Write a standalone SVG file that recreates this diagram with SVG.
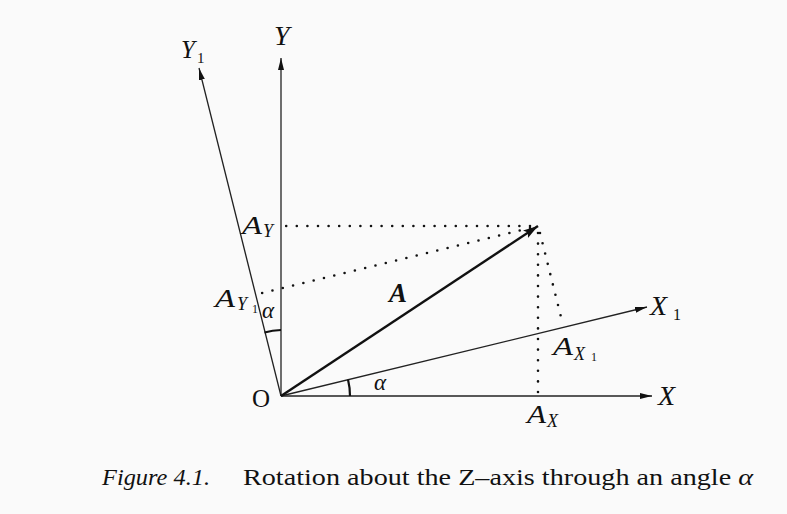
<svg xmlns="http://www.w3.org/2000/svg" width="787" height="514" viewBox="0 0 787 514">
<defs>
<marker id="arr" markerUnits="userSpaceOnUse" markerWidth="14" markerHeight="10" refX="12" refY="4" orient="auto">
<path d="M0,1 L12,4 L0,7 Z" fill="#111"/>
</marker>
<marker id="arrB" markerUnits="userSpaceOnUse" markerWidth="18" markerHeight="12" refX="15" refY="5" orient="auto">
<path d="M0,0.5 L15,5 L0,9.5 L3,5 Z" fill="#111"/>
</marker>
<style>
.ax{stroke:#222;stroke-width:1.3;fill:none}
.vec{stroke:#111;stroke-width:2.4;fill:none}
.dot{stroke:#111;stroke-width:2.6;stroke-linecap:round;stroke-dasharray:0 10.6;fill:none}
.arc{stroke:#111;stroke-width:2.2;fill:none}
.m{font-family:"Liberation Serif","DejaVu Serif",serif;font-style:italic;fill:#111}
.r{font-family:"Liberation Serif","DejaVu Serif",serif;fill:#111}
</style>
</defs>
<rect width="787" height="514" fill="#fafafa"/>
<g id="connectors">
<line id="axis-x" class="ax" x1="281" y1="396" x2="652" y2="396" marker-end="url(#arr)"/>
<line id="axis-y" class="ax" x1="281" y1="396" x2="281" y2="58" marker-end="url(#arr)"/>
<line id="axis-x1" class="ax" x1="281" y1="396" x2="647" y2="307" marker-end="url(#arr)"/>
<line id="axis-y1" class="ax" x1="281" y1="396" x2="199" y2="68" marker-end="url(#arr)"/>
<line id="vector-a" class="vec" x1="281" y1="396" x2="538" y2="226" marker-end="url(#arrB)"/>
<line class="dot" x1="530" y1="226" x2="286" y2="226"/>
<line class="dot" x1="530" y1="228" x2="262" y2="293"/>
<line class="dot" x1="538" y1="233" x2="538" y2="394"/>
<line class="dot" x1="540" y1="233" x2="563" y2="325"/>
<path class="arc" d="M264.5,332.5 A66 66 0 0 1 281,330"/>
<path class="arc" d="M348,379.5 A69 69 0 0 1 350,396"/>
</g>
<g id="label-y"><text class="m" x="274" y="45" font-size="28">Y</text></g>
<g id="label-y1"><text class="m" x="181" y="58" font-size="25">Y</text><text class="r" x="197" y="63" font-size="15">1</text></g>
<g id="label-x"><text class="m" x="658" y="405" font-size="28">X</text></g>
<g id="label-x1"><text class="m" x="650" y="315" font-size="28">X</text><text class="r" x="673" y="320" font-size="16">1</text></g>
<g id="label-ay"><text class="m" x="242" y="234" font-size="26" textLength="20" lengthAdjust="spacingAndGlyphs">A</text><text class="m" x="263" y="237" font-size="18">Y</text></g>
<g id="label-ay1"><text class="m" x="215" y="307" font-size="26" textLength="20" lengthAdjust="spacingAndGlyphs">A</text><text class="m" x="237" y="310" font-size="18">Y</text><text class="r" x="252" y="313" font-size="12">1</text></g>
<g id="label-ax1"><text class="m" x="553" y="355" font-size="26" textLength="20" lengthAdjust="spacingAndGlyphs">A</text><text class="m" x="574" y="360" font-size="18">X</text><text class="r" x="591" y="361" font-size="12">1</text></g>
<g id="label-ax"><text class="m" x="527" y="423" font-size="26" textLength="19" lengthAdjust="spacingAndGlyphs">A</text><text class="m" x="547" y="427" font-size="18">X</text></g>
<g id="label-alpha-y"><text class="m" x="262" y="318" font-size="23">α</text></g>
<g id="label-alpha-x"><text class="m" x="374" y="390" font-size="23">α</text></g>
<g id="label-o"><text class="r" x="252" y="407" font-size="25">O</text></g>
<g id="label-a"><text class="m" x="389" y="302" font-size="27" font-weight="bold">A</text></g>
<g id="caption">
<text class="m" x="102" y="485" font-size="23" textLength="108" lengthAdjust="spacingAndGlyphs">Figure 4.1.</text>
<text class="r" x="243" y="485" font-size="23" textLength="510" lengthAdjust="spacingAndGlyphs">Rotation about the Z–axis through an angle <tspan font-style="italic">α</tspan></text>
</g>
</svg>
